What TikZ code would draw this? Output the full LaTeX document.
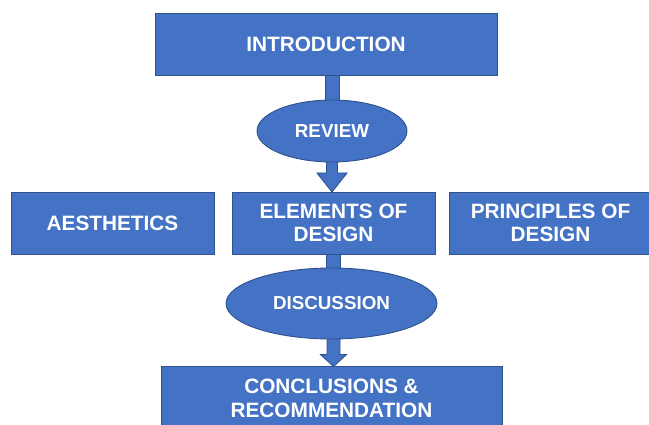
\documentclass[tikz,border=0pt]{standalone}
\usepackage{fontspec}
\setmainfont{Liberation Sans}
\usetikzlibrary{shapes.geometric,calc,backgrounds}
\definecolor{boxblue}{HTML}{4472C4}
\definecolor{edgeblue}{HTML}{2F528F}
\begin{document}
\begin{tikzpicture}[x=1pt,y=-1pt,
  stage/.style={draw=edgeblue, fill=boxblue, line width=0.9pt, text=white,
    font=\bfseries\fontsize{20.8}{23}\selectfont, align=center,
    inner sep=0pt, outer sep=0pt},
  phase/.style={ellipse, draw=edgeblue, fill=boxblue, line width=0.9pt, text=white,
    font=\bfseries\fontsize{18.8}{22}\selectfont, inner sep=0pt, outer sep=0pt},
  link/.style={draw=edgeblue, fill=boxblue, line width=0.9pt, line join=miter}]
\useasboundingbox (0,0) rectangle (649,425);
\clip (0,0) rectangle (649,425);

% stages and phases
\node[stage, minimum width=342, minimum height=62] (intro) at (326,44.5) {INTRODUCTION};
\node[phase, minimum width=150, minimum height=62] (rev) at (332,131) {REVIEW};
\node[stage, minimum width=203, minimum height=62] (aest) at (112.5,223) {AESTHETICS};
\node[stage, minimum width=203, minimum height=62] (elem) at (333.5,223) {ELEMENTS OF\\DESIGN};
\node[stage, minimum width=203, minimum height=62] (princ) at (550.5,223) {PRINCIPLES OF\\DESIGN};
\node[phase, minimum width=211, minimum height=71] (disc) at (331.5,303.5) {DISCUSSION};
\node[stage, minimum width=341, minimum height=64,
  font=\bfseries\fontsize{20.8}{24}\selectfont] (conc) at (331.5,398.5) {CONCLUSIONS \&\\RECOMMENDATION};

% block connectors behind the shapes
\begin{scope}[on background layer]
  \filldraw[link] ($(rev.north |- intro.south)+(-7,-1)$) rectangle ($(rev.north)+(7,6)$);

  \coordinate (t1) at (elem.north -| rev.south);
  \filldraw[link] ($(rev.south)+(-5.5,-4)$) -- ($(t1)+(-5.5,-19)$) -- ($(t1)+(-15,-19)$)
    -- (t1) -- ($(t1)+(15,-19)$) -- ($(t1)+(5.5,-19)$) -- ($(rev.south)+(5.5,-4)$) -- cycle;

  \filldraw[link] ($(elem.south)+(-7,-1)$) rectangle ($(elem.south |- disc.north)+(7,6)$);

  \coordinate (t2) at (conc.north -| elem.south);
  \filldraw[link] ($(disc.south -| t2)+(-6.5,-4)$) -- ($(t2)+(-6.5,-12)$) -- ($(t2)+(-13,-12)$)
    -- (t2) -- ($(t2)+(13,-12)$) -- ($(t2)+(6.5,-12)$) -- ($(disc.south -| t2)+(6.5,-4)$) -- cycle;
\end{scope}
\end{tikzpicture}
\end{document}
